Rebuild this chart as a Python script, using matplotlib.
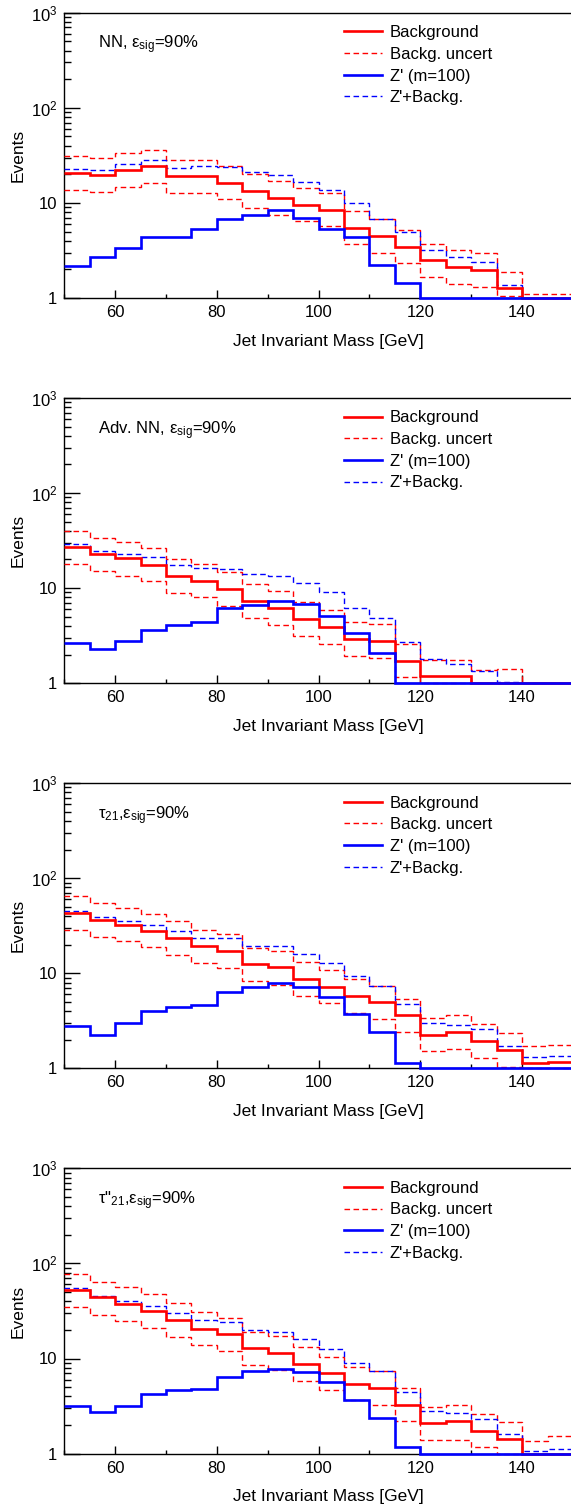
import numpy as np
import matplotlib
matplotlib.use("Agg")
import matplotlib.pyplot as plt
from matplotlib.ticker import FixedLocator, FixedFormatter, NullFormatter

plt.rcParams["font.family"] = ["Liberation Sans", "DejaVu Sans"]
plt.rcParams["mathtext.fontset"] = "custom"
plt.rcParams["mathtext.rm"] = "Liberation Sans"
plt.rcParams["mathtext.it"] = "Liberation Sans:italic"
plt.rcParams["mathtext.bf"] = "Liberation Sans:bold"

# bin edges: 50..150 GeV in 5 GeV bins
edges = np.arange(50, 155, 5)

# NN
nn_bkg = [20.6, 19.7, 22.2, 24.2, 19.0, 19.4, 16.3, 13.4, 11.3, 9.6, 8.4, 5.5, 4.5, 3.43, 2.48, 2.1, 1.97, 1.26, 1.0, 1.0]
nn_up = [31.1, 29.4, 33.5, 36.3, 28.5, 28.5, 24.6, 20.0, 17.1, 14.4, 12.7, 8.2, 6.8, 5.2, 3.7, 3.16, 2.94, 1.89, 1.10, 1.10]
nn_down = [13.8, 13.0, 14.8, 16.2, 12.7, 12.8, 10.9, 8.9, 7.55, 6.4, 5.65, 3.7, 3.0, 2.31, 1.67, 1.40, 1.31, 1.05, 1.0, 1.0]
nn_sig = [2.18, 2.71, 3.35, 4.33, 4.43, 5.3, 6.85, 7.55, 8.4, 7.0, 5.38, 4.33, 2.22, 1.45, 1.0, 1.0, 1.0, 1.0, 1.0, 1.0]
nn_sum = [22.5, 22.2, 25.9, 28.3, 23.5, 24.6, 23.9, 21.0, 19.8, 16.6, 13.8, 9.9, 6.75, 4.9, 3.19, 2.71, 2.37, 1.37, 1.0, 1.0]

# Adversarial NN
adv_bkg = [27.2, 22.7, 20.5, 17.7, 13.4, 12.0, 9.7, 7.3, 6.2, 4.77, 3.9, 2.92, 2.76, 1.71, 1.19, 1.18, 1.0, 1.0, 1.0, 1.0]
adv_up = [39.9, 34.0, 30.4, 26.5, 20.1, 18.1, 14.6, 11.0, 9.4, 7.08, 5.83, 4.36, 4.16, 2.59, 1.76, 1.76, 1.37, 1.40, 1.0, 1.0]
adv_down = [18.0, 15.0, 13.5, 11.8, 8.9, 7.98, 6.42, 4.84, 4.12, 3.14, 2.59, 1.94, 1.86, 1.16, 1.0, 1.0, 1.0, 1.0, 1.0, 1.0]
adv_sig = [2.63, 2.31, 2.80, 3.63, 4.09, 4.36, 6.12, 6.63, 7.25, 6.74, 5.09, 3.35, 2.10, 1.0, 1.0, 1.0, 1.0, 1.0, 1.0, 1.0]
adv_sum = [29.4, 24.8, 23.1, 21.3, 17.6, 16.3, 15.8, 14.1, 13.5, 11.4, 9.0, 6.2, 4.84, 2.71, 1.79, 1.61, 1.34, 1.04, 1.0, 1.0]

# tau21
t21_bkg = [43.1, 36.7, 32.5, 28.1, 23.6, 19.3, 17.1, 12.4, 11.6, 8.7, 7.26, 5.75, 5.0, 3.6, 2.26, 2.41, 1.94, 1.56, 1.14, 1.18]
t21_up = [64.5, 54.9, 49.1, 42.4, 35.5, 28.6, 25.7, 18.5, 17.3, 13.2, 10.9, 8.7, 7.44, 5.39, 3.38, 3.6, 2.92, 2.33, 1.72, 1.77]
t21_down = [28.8, 24.3, 21.6, 18.8, 15.7, 12.8, 11.3, 8.2, 7.62, 5.84, 4.85, 3.84, 3.32, 2.39, 1.51, 1.61, 1.29, 1.04, 1.0, 1.0]
t21_sig = [2.78, 2.22, 2.99, 4.0, 4.41, 4.66, 6.38, 7.14, 7.87, 7.2, 5.66, 3.69, 2.39, 1.15, 1.0, 1.0, 1.0, 1.0, 1.0, 1.0]
t21_sum = [45.6, 38.8, 35.2, 32.3, 27.7, 23.6, 23.3, 19.6, 19.3, 16.0, 12.9, 9.33, 7.32, 4.74, 3.02, 2.85, 2.57, 1.74, 1.33, 1.35]

# tau''21
tdd_bkg = [51.9, 43.8, 37.6, 31.5, 25.4, 20.6, 18.1, 12.8, 11.4, 8.77, 7.0, 5.41, 4.88, 3.26, 2.08, 2.18, 1.71, 1.42, 1.0, 1.0]
tdd_up = [78.2, 64.5, 56.2, 47.5, 38.2, 30.7, 26.8, 19.1, 17.1, 13.1, 10.4, 8.2, 7.3, 4.88, 3.11, 3.26, 2.6, 2.15, 1.37, 1.52]
tdd_down = [34.7, 28.8, 24.8, 21.1, 17.0, 13.7, 11.9, 8.5, 7.59, 5.82, 4.65, 3.62, 3.24, 2.18, 1.38, 1.39, 1.16, 1.0, 1.0, 1.0]
tdd_sig = [3.13, 2.71, 3.18, 4.22, 4.61, 4.8, 6.46, 7.3, 7.78, 7.23, 5.68, 3.65, 2.35, 1.16, 1.0, 1.0, 1.0, 1.0, 1.0, 1.0]
tdd_sum = [54.9, 45.6, 40.4, 35.8, 30.0, 25.4, 24.4, 20.1, 19.1, 15.9, 12.7, 9.06, 7.3, 4.43, 2.82, 2.65, 2.31, 1.59, 1.07, 1.12]

panel_labels = [
    r"NN, ε$_{\mathrm{sig}}$=90%",
    r"Adv. NN, ε$_{\mathrm{sig}}$=90%",
    r"τ$_{21}$,ε$_{\mathrm{sig}}$=90%",
    r'τ"$_{21}$,ε$_{\mathrm{sig}}$=90%',
]
panels = [
    (nn_bkg, nn_up, nn_down, nn_sig, nn_sum),
    (adv_bkg, adv_up, adv_down, adv_sig, adv_sum),
    (t21_bkg, t21_up, t21_down, t21_sig, t21_sum),
    (tdd_bkg, tdd_up, tdd_down, tdd_sig, tdd_sum),
]

W, H = 571, 1511
fig = plt.figure(figsize=(W / 100, H / 100), dpi=100)

left_px, right_px = 64.2, 573.0
dash = (0, (4, 2.5))

for i, (bkg, up, down, sig, tot) in enumerate(panels):
    top_px = 12.7 + i * 385.2
    h_px = 285.3
    ax = fig.add_axes([left_px / W, 1 - (top_px + h_px) / H,
                       (right_px - left_px) / W, h_px / H])

    kw = dict(baseline=None, clip_on=False, zorder=3)
    ax.stairs(down, edges, color="red", lw=1.0, ls=dash, **kw)
    ax.stairs(up, edges, color="red", lw=1.0, ls=dash, label="Backg. uncert", **kw)
    ax.stairs(tot, edges, color="blue", lw=1.0, ls=dash, label="Z'+Backg.", **kw)
    ax.stairs(bkg, edges, color="red", lw=1.9, label="Background", **kw)
    ax.stairs(sig, edges, color="blue", lw=1.9, label="Z' (m=100)", **kw)

    ax.set_yscale("log")
    ax.set_xlim(50, 150)
    ax.set_ylim(1, 1000)

    ax.yaxis.set_major_locator(FixedLocator([1, 10, 100, 1000]))
    ax.yaxis.set_major_formatter(FixedFormatter(["1", "10", r"10$^{2}$", r"10$^{3}$"]))
    minors = [m * d for d in (1, 10, 100) for m in range(2, 10)]
    ax.yaxis.set_minor_locator(FixedLocator(minors))
    ax.yaxis.set_minor_formatter(NullFormatter())
    ax.xaxis.set_major_locator(FixedLocator([60, 80, 100, 120, 140]))
    ax.xaxis.set_minor_locator(FixedLocator([50, 70, 90, 110, 130, 150]))

    ax.tick_params(axis="y", which="major", direction="in", length=11.3, width=1, labelsize=12, pad=5)
    ax.tick_params(axis="y", which="minor", direction="in", length=5.3, width=1)
    ax.tick_params(axis="x", which="major", direction="in", length=6, width=1, labelsize=12, pad=5)
    ax.tick_params(axis="x", which="minor", direction="in", length=3, width=1)
    for s in ax.spines.values():
        s.set_linewidth(1)

    ax.set_ylabel("Events", fontsize=12.5, va="center", ha="center")
    ax.yaxis.set_label_coords(-0.091, 0.5)
    ax.set_xlabel("Jet Invariant Mass [GeV]", fontsize=12.5)
    ax.xaxis.set_label_coords(0.52, -0.151)
    ax.xaxis.label.set_va("center")

    ax.text((97.7 - left_px) / (right_px - left_px), 1 - 36 / h_px, panel_labels[i],
            transform=ax.transAxes, fontsize=12, va="baseline", ha="left")

    handles, labels = ax.get_legend_handles_labels()
    order = ["Background", "Backg. uncert", "Z' (m=100)", "Z'+Backg."]
    hmap = dict(zip(labels, handles))
    ax.legend([hmap[o] for o in order], order, loc="upper left",
              bbox_to_anchor=((344 - left_px) / (right_px - left_px), 1 - 12.5 / h_px),
              frameon=False, fontsize=12, borderpad=0, borderaxespad=0,
              handlelength=2.3, handletextpad=0.45, labelspacing=0.4)

fig.savefig("out.png", dpi=100)
